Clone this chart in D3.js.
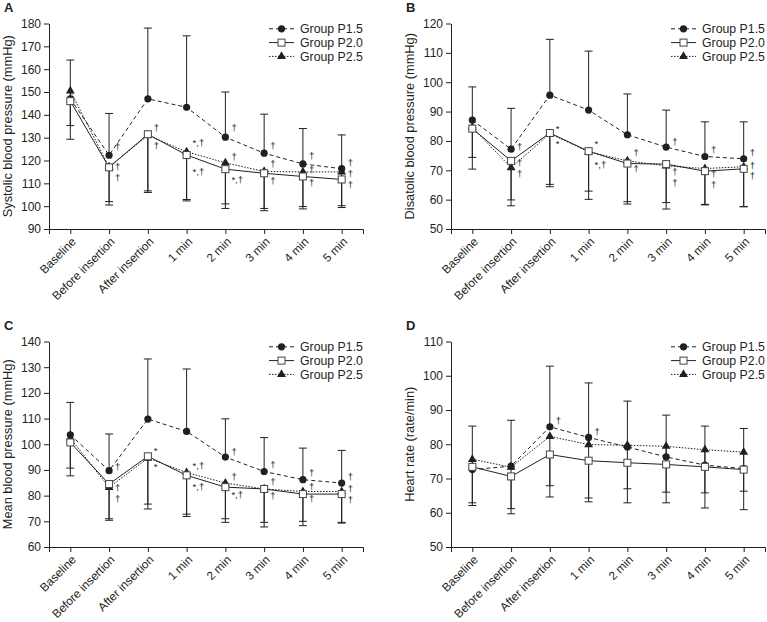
<!DOCTYPE html>
<html><head><meta charset="utf-8">
<script src="https://cdn.jsdelivr.net/npm/d3@7"></script>
<style>body{margin:0;background:#fff} svg{display:block}</style>
</head><body><svg id="chart" width="767" height="622"></svg>
<script>
const categories = ["Baseline","Before insertion","After insertion","1 min","2 min","3 min","4 min","5 min"];
const groups = ["Group P1.5","Group P2.0","Group P2.5"];

// A: Systolic
const sbpP15 = [147, 122.3, 147, 143.3, 130.2, 123.2, 118.5, 116.4];
const sbpP15SD = [17, 18.3, 31, 31.3, 19.8, 17.1, 15.5, 14.8];
const sbpP20 = [146, 117, 131.5, 122.4, 116.2, 114.4, 113, 111.7];
const sbpP20SD = [16.7, 16.5, 25.5, 20.1, 17.2, 16.4, 14.2, 12.3];
const sbpP25 = [150.5, 117.2, 131, 123.8, 119, 115.2, 115, 115];
const sbpP25SD = [15.2, 15.2, 24.3, 20.9, 18, 16.2, 15.2, 14.8];
const sbpTicks = [90,100,110,120,130,140,150,160,170,180];
const sbpNotes = [[1,126.1,"†"],[1,117.3,"†"],[1,112.5,"†"],[2,134.3,"†"],[2,126.4,"†"],
  [3,127.7,"*,†"],[3,115.1,"*,†"],[4,134.4,"†"],[4,121.7,"†"],[4,111.5,"*,†"],
  [5,126.4,"†"],[5,118.5,"†"],[5,111.2,"†"],[6,122.1,"†"],[6,115.9,"†"],[6,110.3,"†"],
  [7,119,"†"],[7,114.4,"†"],[7,109.6,"†"]];

// B: Diastolic
const dbpP15 = [87.1, 77.2, 95.6, 90.5, 82.1, 77.9, 74.7, 73.9];
const dbpP15SD = [11.3, 13.9, 19, 20.1, 13.9, 12.6, 11.8, 12.6];
const dbpP20 = [84.2, 73.2, 82.7, 76.5, 72.3, 72.1, 69.7, 70.5];
const dbpP20SD = [13.8, 15.3, 18.3, 16.4, 13.8, 15.3, 11.5, 12.9];
const dbpP25 = [84.6, 70.9, 82.5, 76.3, 73.2, 71.5, 70.6, 71.2];
const dbpP25SD = [10.2, 11, 17.3, 13.4, 13.9, 12.5, 12.2, 13.6];
const dbpTicks = [50,60,70,80,90,100,110,120];
const dbpNotes = [[1,78,"†"],[1,72.6,"†"],[1,68.7,"†"],[2,84.3,"*"],[2,79.1,"*"],
  [3,78.9,"*"],[3,71.8,"*,†"],[4,76,"†"],[4,70.6,"†"],[5,79.7,"†"],[5,69.6,"†"],[5,65.8,"†"],
  [6,76.9,"†"],[6,68.9,"†"],[6,65.2,"†"],[7,76,"†"],[7,71.7,"†"],[7,68.1,"†"]];

// C: Mean
const mbpP15 = [103.7, 89.7, 109.8, 105, 95, 89.4, 86.2, 84.9];
const mbpP15SD = [12.6, 14.3, 23.4, 24.3, 14.9, 13.2, 12.3, 12.7];
const mbpP20 = [100.7, 84.5, 95.3, 87.9, 83.3, 82.6, 80.6, 80.6];
const mbpP20SD = [13, 14.1, 20.5, 16, 13.7, 14.8, 12.3, 11.3];
const mbpP25 = [102.4, 83.2, 94.6, 89, 84.9, 82.6, 81.6, 81.6];
const mbpP25SD = [11.7, 12.2, 17.9, 16.2, 13.9, 13, 11.6, 12];
const mbpTicks = [60,70,80,90,100,110,120,130,140];
const mbpNotes = [[1,91.1,"†"],[1,83.2,"†"],[1,78.7,"†"],[2,97.6,"*"],[2,91.4,"*"],
  [3,91.6,"*,†"],[3,83.6,"*,†"],[4,97.2,"†"],[4,87.5,"†"],[4,80.4,"*,†"],
  [5,92,"†"],[5,85.5,"†"],[5,80,"†"],[6,88.8,"†"],[6,83.3,"†"],[6,78.7,"†"],
  [7,87.2,"†"],[7,82.9,"†"],[7,78.6,"†"]];

// D: Heart rate
const hrP15 = [72.6, 73.6, 85.1, 82, 79.2, 76.3, 73.9, 72.9];
const hrP15SD = [12.7, 13.4, 17.7, 15.9, 13.4, 12.2, 11.4, 11.7];
const hrP20 = [73.4, 70.6, 77, 75.2, 74.6, 74.1, 73.4, 72.6];
const hrP20SD = [11.3, 10.9, 12.4, 12, 11.7, 11.2, 12, 11.7];
const hrP25 = [75.6, 73.3, 82.3, 79.9, 79.7, 79.4, 78.4, 77.7];
const hrP25SD = [12.7, 12.1, 14.4, 15.6, 12.7, 13.4, 12.6, 11.4];
const hrTicks = [50,60,70,80,90,100,110];
const hrNotes = [[2,86.9,"†"],[3,83.6,"†"]];

const panels = [
  {label:"A", title:"Systolic blood pressure (mmHg)", ticks:sbpTicks, dx:0, dy:0,
   series:[[sbpP15,sbpP15SD],[sbpP20,sbpP20SD],[sbpP25,sbpP25SD]], notes:sbpNotes},
  {label:"B", title:"Disatolic blood pressure (mmHg)", ticks:dbpTicks, dx:402, dy:0,
   series:[[dbpP15,dbpP15SD],[dbpP20,dbpP20SD],[dbpP25,dbpP25SD]], notes:dbpNotes},
  {label:"C", title:"Mean blood pressure (mmHg)", ticks:mbpTicks, dx:0, dy:318,
   series:[[mbpP15,mbpP15SD],[mbpP20,mbpP20SD],[mbpP25,mbpP25SD]], notes:mbpNotes},
  {label:"D", title:"Heart rate (rate/min)", ticks:hrTicks, dx:402, dy:318,
   series:[[hrP15,hrP15SD],[hrP20,hrP20SD],[hrP25,hrP25SD]], notes:hrNotes}
];

const INK = "#231f20";
const FONT = "'Liberation Sans', Arial, Helvetica, sans-serif";
const dashes = ["4,3", null, "1.5,1.5"];
const errDir = [1, -1, -1];

function marker(sel, gi) {
  if (gi === 0) {
    sel.append("circle").attr("r", 3.6).attr("fill", INK);
  } else if (gi === 1) {
    sel.append("rect").attr("x", -3.5).attr("y", -3.5).attr("width", 7).attr("height", 7)
      .attr("fill", "#fff").attr("stroke", "#444").attr("stroke-width", 1);
  } else {
    sel.append("path").attr("d", d3.symbol().type(d3.symbolTriangle).size(34)()).attr("fill", INK);
  }
}

const svg = d3.select("#chart");
svg.append("rect").attr("width", 767).attr("height", 622).attr("fill", "#fff");

panels.forEach(p => {
  const g = svg.append("g").attr("transform", `translate(${p.dx},${p.dy})`);
  const x = d3.scalePoint().domain(categories).range([49, 363]).padding(0.55);
  const y = d3.scaleLinear().domain([p.ticks[0], p.ticks[p.ticks.length - 1]]).range([229, 23.5]);

  // axes
  const ya = g.append("g").attr("transform", "translate(49,0)")
    .call(d3.axisLeft(y).tickValues(p.ticks).tickSize(5).tickSizeOuter(0).tickPadding(3));
  const xa = g.append("g").attr("transform", "translate(0,229)")
    .call(d3.axisBottom(x).tickSize(5).tickSizeOuter(5));
  [ya, xa].forEach(a => {
    a.selectAll("path,line").attr("stroke", INK);
    a.selectAll("text").attr("fill", INK).attr("font-family", FONT);
  });
  ya.selectAll("text").attr("font-size", 12);
  xa.selectAll("text").attr("font-size", 11.8).attr("x", 0).attr("y", 0).attr("dy", "0.35em")
    .attr("text-anchor", "end").attr("transform", "translate(3,10.5) rotate(-45)");

  // title & label
  g.append("text").attr("transform", `translate(7.5,${(229 + 23.5) / 2}) rotate(-90)`)
    .attr("text-anchor", "middle").attr("dy", "0.35em").attr("font-size", 12.8)
    .attr("font-family", FONT).attr("fill", INK).text(p.title);
  g.append("text").attr("x", 4).attr("y", 12).attr("font-size", 13).attr("font-weight", "bold")
    .attr("font-family", FONT).attr("fill", INK).text(p.label);

  // error bars
  p.series.forEach(([m, sd], gi) => {
    const eg = g.append("g");
    m.forEach((v, i) => {
      const cx = x(categories[i]);
      const end = v + errDir[gi] * sd[i];
      eg.append("line").attr("x1", cx).attr("x2", cx).attr("y1", y(v)).attr("y2", y(end))
        .attr("stroke", INK).attr("stroke-width", 1);
      eg.append("line").attr("x1", cx - 4).attr("x2", cx + 4).attr("y1", y(end)).attr("y2", y(end))
        .attr("stroke", INK).attr("stroke-width", 1);
    });
  });
  // lines
  const line = d3.line().x((d, i) => x(categories[i])).y(d => y(d));
  [2, 0, 1].forEach(gi => {
    const m = p.series[gi][0];
    g.append("path").attr("d", line(m)).attr("fill", "none").attr("stroke", INK)
      .attr("stroke-width", 1).attr("stroke-dasharray", dashes[gi]);
  });
  // markers
  [0, 2, 1].forEach(gi => {
    const m = p.series[gi][0];
    m.forEach((v, i) => {
      marker(g.append("g").attr("transform", `translate(${x(categories[i])},${y(v)})`), gi);
    });
  });
  // notes
  p.notes.forEach(([ci, v, t]) => {
    g.append("text").attr("x", x(categories[ci]) + 6).attr("y", y(v)).attr("dy", "0.35em")
      .attr("font-size", 9.5).attr("font-family", FONT).attr("fill", INK).text(t);
  });
  // legend
  const legY = [28.8, 42.6, 56.4];
  groups.forEach((name, gi) => {
    const lg = g.append("g").attr("transform", `translate(269,${legY[gi]})`);
    lg.append("line").attr("x1", 0).attr("x2", 25).attr("stroke", INK).attr("stroke-width", 1)
      .attr("stroke-dasharray", dashes[gi]);
    marker(lg.append("g").attr("transform", "translate(12.5,0)"), gi);
    lg.append("text").attr("x", 31).attr("dy", "0.35em").attr("font-size", 12.3)
      .attr("font-family", FONT).attr("fill", INK).text(name);
  });
});
</script></body></html>
